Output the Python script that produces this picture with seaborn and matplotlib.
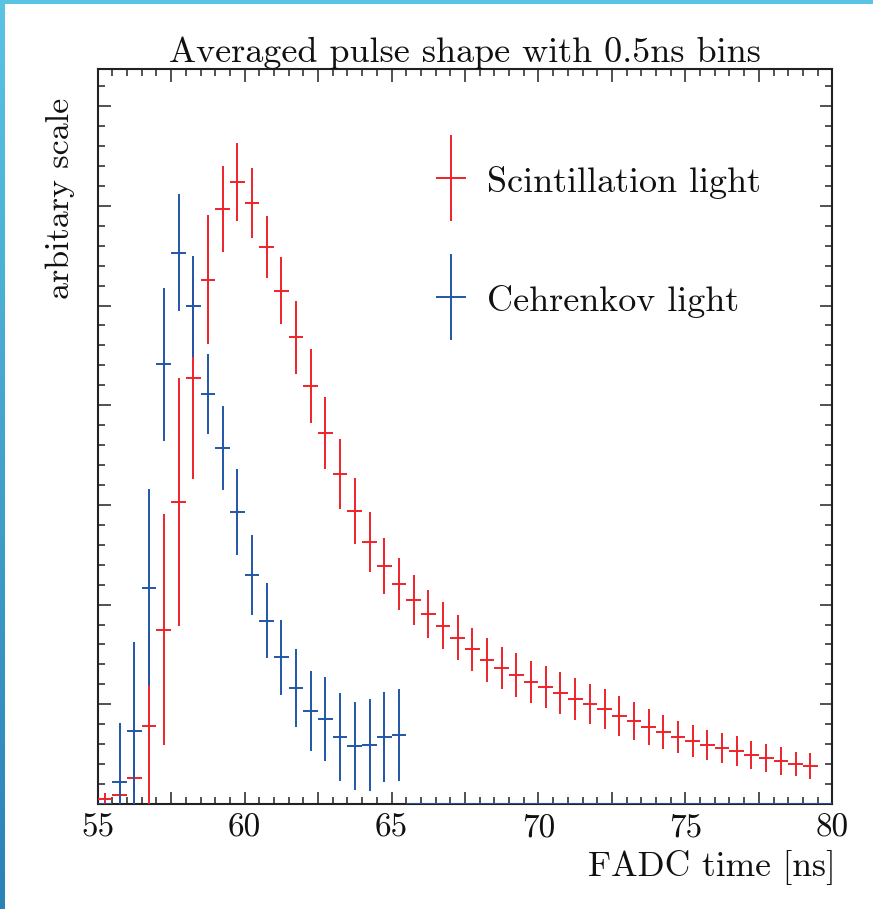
import numpy as np
import matplotlib
matplotlib.use("Agg")
import matplotlib.pyplot as plt
import seaborn as sns
from matplotlib.container import ErrorbarContainer
from matplotlib.legend_handler import HandlerErrorbar
from matplotlib.patches import Rectangle
from matplotlib.ticker import MultipleLocator, FuncFormatter
from matplotlib.colors import LinearSegmentedColormap

# ---------------- data ----------------
bin_width = 0.5
red_x = np.arange(55.25, 79.30, bin_width)
red_y = [0.05, 0.09, 0.26, 0.78, 1.75, 3.03, 4.27, 5.26, 5.97, 6.24,
         6.03, 5.59, 5.15, 4.68, 4.19, 3.72, 3.31, 2.94, 2.63, 2.39,
         2.21, 2.05, 1.91, 1.79, 1.67, 1.55, 1.44, 1.36, 1.29, 1.22,
         1.17, 1.11, 1.05, 1.00, 0.95, 0.88, 0.83, 0.77, 0.72, 0.67,
         0.63, 0.59, 0.56, 0.53, 0.49, 0.46, 0.43, 0.40, 0.38]
red_err = [0.06, 0.08, 0.16, 0.95, 1.16, 1.24, 1.01, 0.65, 0.43, 0.39,
           0.35, 0.31, 0.34, 0.37, 0.37, 0.36, 0.35, 0.33, 0.30, 0.28,
           0.26, 0.25, 0.24, 0.24, 0.23, 0.22, 0.22, 0.21, 0.22, 0.21,
           0.21, 0.21, 0.21, 0.20, 0.20, 0.20, 0.19, 0.18, 0.17, 0.16,
           0.16, 0.15, 0.15, 0.15, 0.14, 0.14, 0.14, 0.12, 0.13]

blue_x = np.arange(55.25, 79.80, bin_width)
blue_y = [0.00, 0.22, 0.73, 2.17, 4.41, 5.53, 4.99, 4.11, 3.57, 2.93,
          2.30, 1.84, 1.47, 1.16, 0.93, 0.85, 0.67, 0.58, 0.59, 0.67,
          0.69, 0.00, 0.00, 0.00, 0.00, 0.00, 0.00, 0.00, 0.00, 0.00,
          0.00, 0.00, 0.00, 0.00, 0.00, 0.00, 0.00, 0.00, 0.00, 0.00,
          0.00, 0.00, 0.00, 0.00, 0.00, 0.00, 0.00, 0.00, 0.00, 0.00]
blue_err = [0.00, 0.59, 0.89, 0.99, 0.77, 0.59, 0.51, 0.40, 0.42, 0.43,
            0.40, 0.38, 0.38, 0.39, 0.40, 0.42, 0.44, 0.44, 0.46, 0.45,
            0.46, 0.00, 0.00, 0.00, 0.00, 0.00, 0.00, 0.00, 0.00, 0.00,
            0.00, 0.00, 0.00, 0.00, 0.00, 0.00, 0.00, 0.00, 0.00, 0.00,
            0.00, 0.00, 0.00, 0.00, 0.00, 0.00, 0.00, 0.00, 0.00, 0.00]

series_names = ["Scintillation light", "Cehrenkov light"]
title_text = "Averaged pulse shape with 0.5ns bins"
x_label = "FADC time [ns]"
y_label = "arbitary scale"

RED = "#EE2229"
BLUE = "#2256A8"

# ---------------- style ----------------
sns.set_theme(style="ticks")
plt.rcParams["font.family"] = ["cmr10", "DejaVu Serif"]
plt.rcParams["axes.formatter.use_mathtext"] = True

fig = plt.figure(figsize=(8.73, 9.09), dpi=100)
W, H = 873, 909
left, right, top, bottom = 97.7, 832.3, 69, 804
ax = fig.add_axes([left / W, 1 - bottom / H, (right - left) / W, (bottom - top) / H])

lw = 1.4
e_red = ax.errorbar(red_x, red_y, yerr=red_err, xerr=bin_width / 2, fmt="none",
                    ecolor=RED, elinewidth=lw, capsize=0, label=series_names[0], zorder=3)
e_blue = ax.errorbar(blue_x, blue_y, yerr=blue_err, xerr=bin_width / 2, fmt="none",
                     ecolor=BLUE, elinewidth=lw, capsize=0, label=series_names[1], zorder=4)

ax.set_xlim(55, 80)
ax.set_ylim(0, (bottom - top) / 99.7)

ax.xaxis.set_major_locator(MultipleLocator(2.5))
ax.xaxis.set_minor_locator(MultipleLocator(0.5))
ax.xaxis.set_major_formatter(FuncFormatter(lambda v, p: f"{v:.0f}" if abs(v % 5) < 1e-6 else ""))
ax.yaxis.set_major_locator(MultipleLocator(1))
ax.yaxis.set_minor_locator(MultipleLocator(0.2))
ax.yaxis.set_major_formatter(FuncFormatter(lambda v, p: ""))

ax.tick_params(which="both", direction="in", top=True, right=True, bottom=True, left=True,
               colors="#222222", labelcolor="#111111")
ax.tick_params(which="major", length=9, width=1.1, labelsize=24, pad=7)
ax.tick_params(which="minor", length=5, width=1.1)
for s in ax.spines.values():
    s.set_linewidth(1.5)
    s.set_color("#222222")
    s.set_visible(True)

ax.set_title(title_text, fontsize=26, pad=3, color="#111111")
ax.set_xlabel(x_label, fontsize=25.5, loc="right", color="#111111")
ax.xaxis.set_label_coords(1.005, -0.063)
ax.set_ylabel(y_label, fontsize=24.5, loc="top", color="#111111")
ax.yaxis.set_label_coords(-0.031, 0.9605)

fs_leg = 26
leg = ax.legend(handles=[e_red, e_blue], labels=series_names, loc="center left",
                bbox_to_anchor=(0.4314, 0.766), frameon=False, fontsize=fs_leg,
                borderaxespad=0.0, borderpad=0.4,
                handlelength=1.2, handleheight=1.0, handletextpad=0.4,
                labelspacing=2.31, numpoints=1,
                handler_map={ErrorbarContainer: HandlerErrorbar(xerr_size=0.41, yerr_size=1.18)})
for t in leg.get_texts():
    t.set_color("#111111")

# frame decoration (cyan border of the original image)
fig.patches.append(Rectangle((0, 1 - 3.5 / H), 1, 3.5 / H, transform=fig.transFigure,
                             facecolor="#5BC3E4", edgecolor="none", zorder=10))
gax = fig.add_axes([0, 0, 4.5 / W, 1 - 3.5 / H])
grad = np.linspace(0, 1, 256).reshape(-1, 1)
cmap = LinearSegmentedColormap.from_list("edge", ["#5BC3E4", "#2A82B6"])
gax.imshow(grad, aspect="auto", cmap=cmap, extent=[0, 1, 0, 1], origin="upper")
gax.set_axis_off()

fig.savefig("out.png", dpi=100)
